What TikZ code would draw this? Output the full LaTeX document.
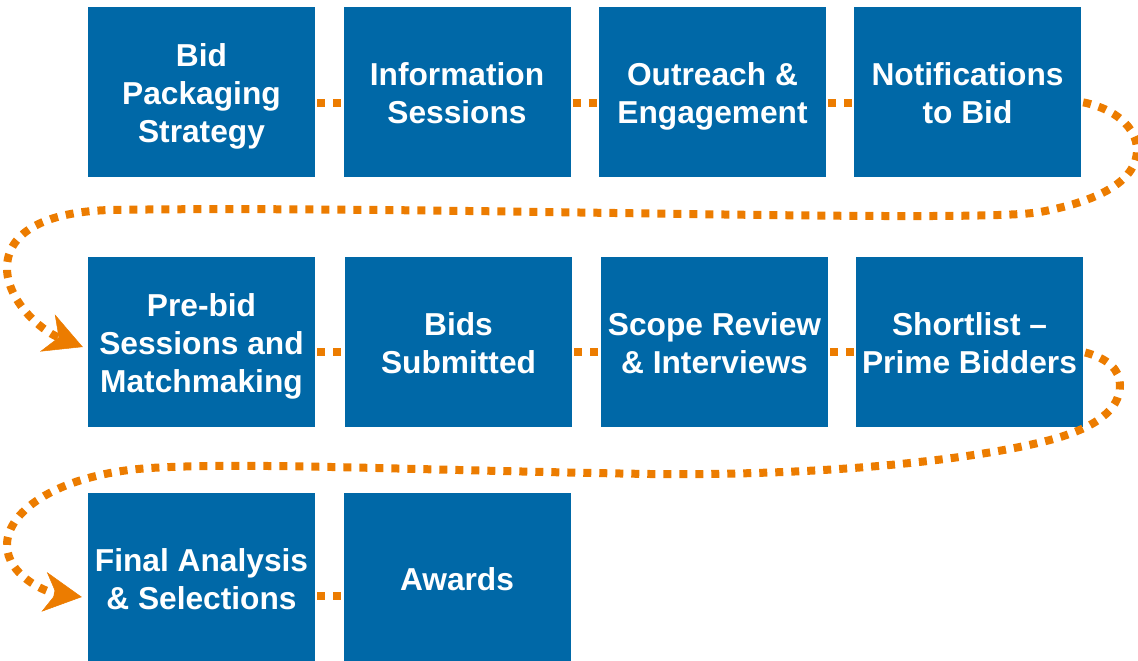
\documentclass[tikz,border=0pt]{standalone}
\usepackage{fontspec}
\setmainfont{Liberation Sans}
\usetikzlibrary{arrows.meta}
\definecolor{boxblue}{RGB}{0,104,167}
\definecolor{dotorange}{RGB}{236,124,0}
\newcommand{\topstrut}{\rule{0pt}{33pt}}
\newcommand{\botstrut}{\rule[-7.3pt]{0pt}{7.3pt}}
\begin{document}
\begin{tikzpicture}[x=1pt,y=-1pt,
  stepbox/.style={fill=boxblue, draw=none, minimum width=227pt, minimum height=170pt,
    inner sep=0pt, text=white, font=\bfseries\fontsize{31.7}{38}\selectfont, align=center},
  conn/.style={draw=dotorange, line width=8pt, dash pattern=on 8pt off 8pt, dash phase=14pt},
  arr/.style={-{Stealth[length=38pt,width=40pt,inset=12pt,line width=0.5pt]}}]
\useasboundingbox (0,0) rectangle (1138,661);
% row 1
\node[stepbox] (b1) at (201.5,92) {\topstrut Bid\\Packaging\\Strategy\botstrut};
\node[stepbox] (b2) at (457,92) {\topstrut Information\\Sessions\botstrut};
\node[stepbox] (b3) at (712.5,92) {\topstrut Outreach \&\\Engagement\botstrut};
\node[stepbox] (b4) at (967.5,92) {\topstrut Notifications\\to Bid\botstrut};
% row 2
\node[stepbox] (c1) at (201.5,342) {\topstrut Pre-bid\\Sessions and\\Matchmaking\botstrut};
\node[stepbox] (c2) at (458.5,342) {\topstrut Bids\\Submitted\botstrut};
\node[stepbox] (c3) at (714.5,342) {\topstrut Scope Review\\\& Interviews\botstrut};
\node[stepbox] (c4) at (969.5,342) {\topstrut Shortlist –\\Prime Bidders\botstrut};
% row 3
\node[stepbox] (d1) at (201.5,578) {\topstrut Final Analysis\\\& Selections\botstrut};
\node[stepbox] (d2) at (457,578) {\topstrut Awards\botstrut};
% straight connectors
\draw[conn] ([yshift=-11pt]b1.east) -- ([yshift=-11pt]b2.west);
\draw[conn] ([yshift=-11pt]b2.east) -- ([yshift=-11pt]b3.west);
\draw[conn] ([yshift=-11pt]b3.east) -- ([yshift=-11pt]b4.west);
\draw[conn] ([yshift=-10pt]c1.east) -- ([yshift=-10pt]c2.west);
\draw[conn] ([yshift=-10pt]c2.east) -- ([yshift=-10pt]c3.west);
\draw[conn] ([yshift=-10pt]c3.east) -- ([yshift=-10pt]c4.west);
\draw[conn] ([yshift=-18pt]d1.east) -- ([yshift=-18pt]d2.west);
% return curves
\draw[conn,arr] ([yshift=-10pt]b4.east) .. controls (1115,108) and (1137,128) .. (1137,150)
  .. controls (1137,178) and (1105,200) .. (1040,212)
  .. controls (975,224) and (400,205) .. (110,210)
  .. controls (40,212) and (7,235) .. (7,268)
  .. controls (7,300) and (40,330) .. ([shift={(-5pt,-5pt)}]c1.west);
\draw[conn,arr] ([yshift=-10pt]c4.east) .. controls (1108,358) and (1120,370) .. (1120,385)
  .. controls (1120,410) and (1095,428) .. (1050,440)
  .. controls (990,456) and (850,476) .. (650,474)
  .. controls (400,470) and (250,462) .. (150,468)
  .. controls (60,474) and (7,510) .. (7,545)
  .. controls (7,575) and (45,592) .. ([shift={(-6pt,-19pt)}]d1.west);
\end{tikzpicture}
\end{document}
